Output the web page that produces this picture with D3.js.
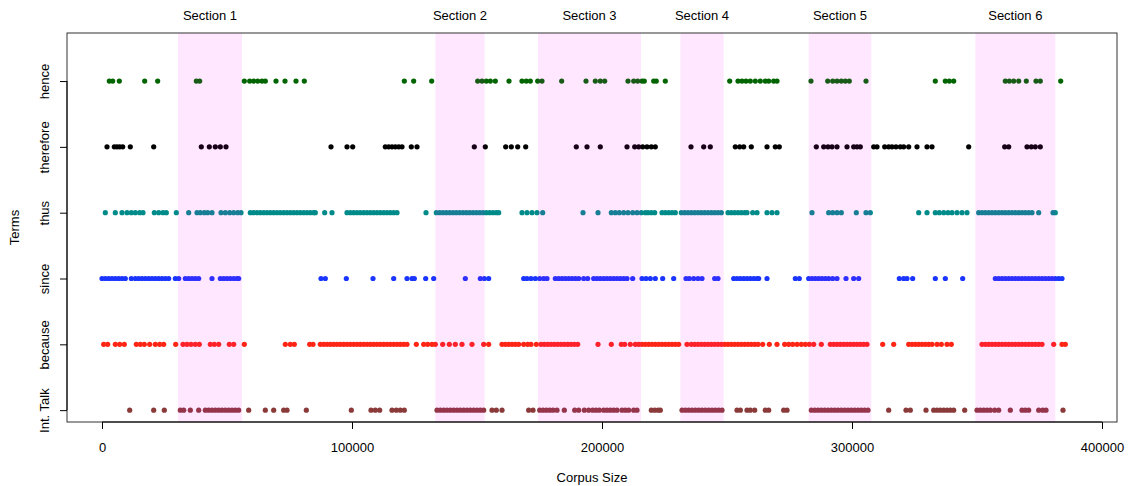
<!DOCTYPE html>
<html>
<head>
<meta charset="utf-8">
<script src="https://cdn.jsdelivr.net/npm/d3@7"></script>
<style>
body { margin: 0; background: #fff; }
text { font-family: "Liberation Sans", Arial, sans-serif; fill: #000; }
</style>
</head>
<body>
<svg id="chart" width="1130" height="486"></svg>
<script>
var terms = ["Int. Talk", "because", "since", "thus", "therefore", "hence"];
var termColors = ["#8b3a3a", "#ff2616", "#1a35ff", "#008b8b", "#000000", "#006400"];
var xTicks = [0, 100000, 200000, 300000, 400000];

var sectionNames = ["Section 1", "Section 2", "Section 3", "Section 4", "Section 5", "Section 6"];
var sectionStart = [30400, 133330, 174400, 231330, 282670, 349330];
var sectionEnd = [56000, 153070, 215600, 248670, 307730, 381330];

var intTalk = [11070, 20670, 24930, 31330, 32670, 35330, 38670, 41330, 42670, 44000, 45330, 46670, 48000, 49330, 50670, 52000, 53330, 54670, 58670, 65330, 68670, 72670, 74000, 81730, 99730, 107600, 109330, 111070, 116000, 117730, 119330, 120930, 134000, 135330, 136670, 138000, 139330, 140670, 142000, 143330, 144670, 146000, 147330, 148670, 150000, 151330, 152670, 156000, 157730, 160000, 170670, 172400, 175070, 176400, 177730, 179070, 180400, 182000, 184930, 189070, 190670, 192930, 194670, 196270, 197600, 198930, 200670, 202000, 203330, 204670, 206000, 208000, 209330, 210670, 212670, 214000, 219730, 221070, 222400, 223330, 232000, 233330, 234670, 236000, 237330, 238670, 240000, 241330, 242670, 244000, 245330, 246670, 248000, 254000, 255330, 258000, 259330, 261070, 265330, 266670, 272670, 274000, 283730, 285070, 286400, 287730, 289070, 290400, 291730, 293070, 294400, 295730, 297070, 298400, 299730, 301070, 302400, 303730, 305070, 306400, 314670, 321600, 323330, 329600, 332670, 334000, 335330, 336670, 338000, 339330, 340670, 345070, 350000, 351330, 352670, 354000, 355330, 357070, 358670, 363330, 368000, 369330, 370670, 374670, 376270, 377600, 384400];

var because = [670, 2270, 5330, 7070, 8930, 13730, 15330, 16930, 19070, 21330, 23070, 24670, 29470, 32400, 34000, 35600, 37330, 38930, 43330, 44930, 46670, 50930, 52670, 56930, 73330, 75330, 76930, 83070, 84400, 87330, 88670, 90000, 91330, 92670, 94000, 95330, 96670, 98000, 99330, 100670, 102000, 103330, 104670, 106000, 107330, 108670, 110000, 111330, 112670, 114000, 115330, 116670, 118000, 119330, 120670, 122000, 125730, 128670, 130270, 132000, 133330, 136270, 138930, 141330, 144000, 148000, 152670, 154670, 160000, 161330, 162670, 164000, 165330, 166670, 168670, 170270, 171600, 173730, 175600, 176930, 178270, 179600, 180930, 182270, 183600, 184930, 186270, 187600, 188930, 190270, 198400, 203730, 207730, 209070, 211330, 213330, 214670, 216000, 217330, 218670, 220000, 221330, 222670, 224000, 225330, 226670, 228000, 229330, 230670, 234000, 235730, 237070, 238400, 239730, 241070, 242400, 243730, 245070, 246400, 247730, 249070, 250400, 251730, 253070, 254400, 255730, 257070, 258400, 259730, 261070, 262400, 264270, 266930, 270000, 273070, 274670, 276270, 278000, 279730, 281330, 282930, 284670, 287730, 291330, 292670, 294000, 295330, 296670, 298000, 299330, 300670, 302000, 303330, 304670, 306000, 312270, 316670, 322670, 324000, 325330, 326670, 328000, 329330, 330670, 332000, 334000, 335730, 338000, 339730, 352000, 353330, 354670, 356000, 357330, 358670, 360000, 361330, 362670, 364000, 365330, 366670, 368000, 369330, 370670, 372000, 373330, 374670, 376000, 380670, 384000, 385330];

var since = [0, 1330, 2670, 4000, 5330, 6670, 8000, 9330, 11730, 13330, 14670, 16000, 17330, 18670, 20000, 21330, 22670, 24000, 25330, 26670, 29330, 30670, 33330, 34670, 36000, 37330, 38670, 44000, 47330, 48670, 50000, 51330, 52670, 54000, 54670, 87600, 89330, 97730, 108400, 116670, 122000, 124000, 124930, 129470, 132670, 145330, 151330, 152930, 154670, 168670, 170000, 171600, 173330, 175070, 176670, 178000, 181330, 182670, 184000, 185330, 186670, 188000, 189330, 190670, 192670, 194270, 196670, 198000, 199330, 200670, 202000, 203330, 204670, 206000, 207330, 208670, 210000, 212270, 216000, 217600, 219330, 221330, 224270, 228670, 233600, 234930, 236670, 238400, 240000, 245070, 246400, 252670, 254000, 255330, 256670, 258000, 259330, 260670, 262000, 262670, 266000, 277330, 278930, 282670, 284000, 285330, 286670, 288000, 289330, 290670, 292270, 294000, 297600, 300670, 302670, 318930, 320670, 322000, 324270, 333330, 337330, 344270, 357330, 358670, 360000, 361330, 362670, 364000, 365330, 366670, 368000, 369330, 370670, 372000, 373330, 374670, 376000, 377330, 378670, 380000, 381330, 382670, 384000];

var thus = [1330, 5330, 8000, 10000, 11730, 13330, 15070, 16400, 20930, 22670, 24400, 25730, 29730, 34670, 38000, 39330, 40930, 42270, 44000, 47600, 49330, 51070, 52670, 54270, 55600, 59330, 60670, 62000, 63330, 64670, 66000, 67330, 68670, 70000, 71330, 72670, 74000, 75330, 76670, 78000, 79330, 80670, 82000, 83330, 84670, 85330, 89070, 92000, 98000, 99330, 100670, 102000, 103330, 104670, 106000, 107330, 108670, 110000, 111330, 112670, 114000, 115330, 116670, 118000, 129600, 133730, 135070, 136400, 137730, 139070, 140400, 141730, 143070, 144400, 145730, 147070, 148400, 149730, 151070, 152400, 153730, 155070, 156400, 157730, 158670, 168000, 170000, 172000, 174000, 176270, 192400, 198400, 203730, 205330, 206930, 208670, 210400, 212270, 214000, 215730, 217330, 218400, 219730, 221070, 224000, 225330, 226670, 228000, 229330, 231730, 233070, 234400, 235730, 237070, 238400, 239730, 241070, 242400, 243730, 245070, 246400, 247730, 250400, 251730, 253070, 254400, 255730, 257070, 258000, 260270, 262000, 266000, 268000, 270000, 284000, 290670, 292270, 294000, 295730, 301730, 305600, 307330, 326670, 330000, 333330, 334930, 336670, 338400, 340000, 342000, 344000, 346000, 350670, 352000, 353330, 354670, 356000, 357330, 358670, 360000, 361330, 362670, 364000, 365330, 366670, 368000, 369330, 370670, 372000, 374670, 380400, 381330];

var therefore = [2000, 4920, 6000, 7080, 8280, 11320, 20680, 39720, 42920, 45320, 47320, 49600, 91600, 98000, 100280, 113320, 114680, 116000, 117320, 118680, 120000, 123720, 126000, 148920, 153320, 161480, 163720, 166280, 169480, 189720, 194000, 199320, 210000, 213080, 214680, 216280, 218000, 219720, 221320, 235600, 240680, 243320, 253320, 255080, 256680, 259720, 266000, 269320, 270920, 285720, 288680, 290400, 292000, 294000, 298000, 300680, 302000, 303320, 308680, 310000, 313080, 314680, 316000, 317600, 319320, 320680, 322680, 326000, 330000, 332000, 346680, 361080, 362680, 370000, 371720, 373320, 375320];

var hence = [2930, 4270, 6930, 17070, 22270, 37730, 39070, 56930, 59070, 60670, 62270, 64000, 65330, 69600, 73200, 77600, 80930, 120930, 124670, 131870, 150270, 152000, 153730, 155330, 157330, 162800, 168000, 169730, 171330, 174270, 176000, 183870, 193600, 197320, 199320, 201080, 210400, 212680, 214280, 216000, 216920, 220680, 221720, 225320, 251080, 254400, 256000, 257600, 259320, 261320, 263320, 265320, 266680, 268680, 270000, 283600, 290280, 292280, 294000, 295720, 297320, 298920, 305600, 333320, 337320, 338920, 340680, 361320, 362920, 364680, 366680, 369720, 373600, 375320, 383480];

var termValues = [intTalk, because, since, thus, therefore, hence];

var svg = d3.select("#chart"),
    plotLeft = 67, plotRight = 1117, plotTop = 33, plotBottom = 422;

var x = d3.scaleLinear().domain([-14000, 406000]).range([plotLeft, plotRight]);
var y = d3.scaleLinear().domain([0.82, 6.73]).range([plotBottom, plotTop]);

var points = [];
termValues.forEach(function (vals, i) {
    vals.forEach(function (v) {
        points.push({ term: i, value: v });
    });
});

svg.append("g").attr("class", "points").selectAll("circle").data(points).enter().append("circle")
    .attr("cx", function (d) { return x(d.value) })
    .attr("cy", function (d) { return y(d.term + 1) })
    .attr("r", 2.6)
    .style("fill", function (d) { return termColors[d.term] });

var sections = sectionNames.map(function (name, i) {
    return { name: name, start: sectionStart[i], end: sectionEnd[i] };
});

svg.append("g").attr("class", "sections").selectAll("rect").data(sections).enter().append("rect")
    .attr("x", function (d) { return x(d.start) })
    .attr("y", plotTop)
    .attr("width", function (d) { return x(d.end) - x(d.start) })
    .attr("height", plotBottom - plotTop)
    .style("fill", "#ff00ff").style("fill-opacity", 0.09);

svg.append("g").selectAll("text").data(sections).enter().append("text")
    .attr("x", function (d) { return (x(d.start) + x(d.end)) / 2 })
    .attr("y", 20)
    .attr("text-anchor", "middle")
    .style("font-size", "13px")
    .text(function (d) { return d.name });

svg.append("rect").attr("x", plotLeft).attr("y", plotTop).attr("width", plotRight - plotLeft).attr("height", plotBottom - plotTop)
    .style("fill", "none").style("stroke", "#333").style("stroke-width", 1);

var xAxis = svg.append("g").attr("transform", "translate(0," + plotBottom + ")")
    .call(d3.axisBottom(x).tickValues(xTicks).tickSize(7).tickPadding(14).tickFormat(d3.format("d")));
xAxis.select(".domain").attr("d", "M" + x(xTicks[0]) + ",0H" + x(xTicks[xTicks.length - 1]));
xAxis.selectAll("text").style("font-size", "13px").style("font-family", "Liberation Sans, Arial, sans-serif");

var yAxis = svg.append("g").attr("transform", "translate(" + plotLeft + ",0)")
    .call(d3.axisLeft(y).tickValues([1, 2, 3, 4, 5, 6]).tickSize(7).tickFormat(function (d) { return terms[d - 1] }));
yAxis.select(".domain").attr("d", "M0," + y(1) + "V" + y(6));
yAxis.selectAll(".tick text")
    .attr("transform", "rotate(-90)")
    .attr("x", 0).attr("y", -18).attr("dy", 0)
    .attr("text-anchor", "middle")
    .style("font-size", "13px").style("font-family", "Liberation Sans, Arial, sans-serif");

svg.append("text").attr("x", (plotLeft + plotRight) / 2).attr("y", 482).attr("text-anchor", "middle")
    .style("font-size", "13px").text("Corpus Size");
svg.append("text").attr("transform", "translate(19," + (plotTop + plotBottom) / 2 + ") rotate(-90)")
    .attr("text-anchor", "middle").style("font-size", "13px").text("Terms");
</script>
</body>
</html>
